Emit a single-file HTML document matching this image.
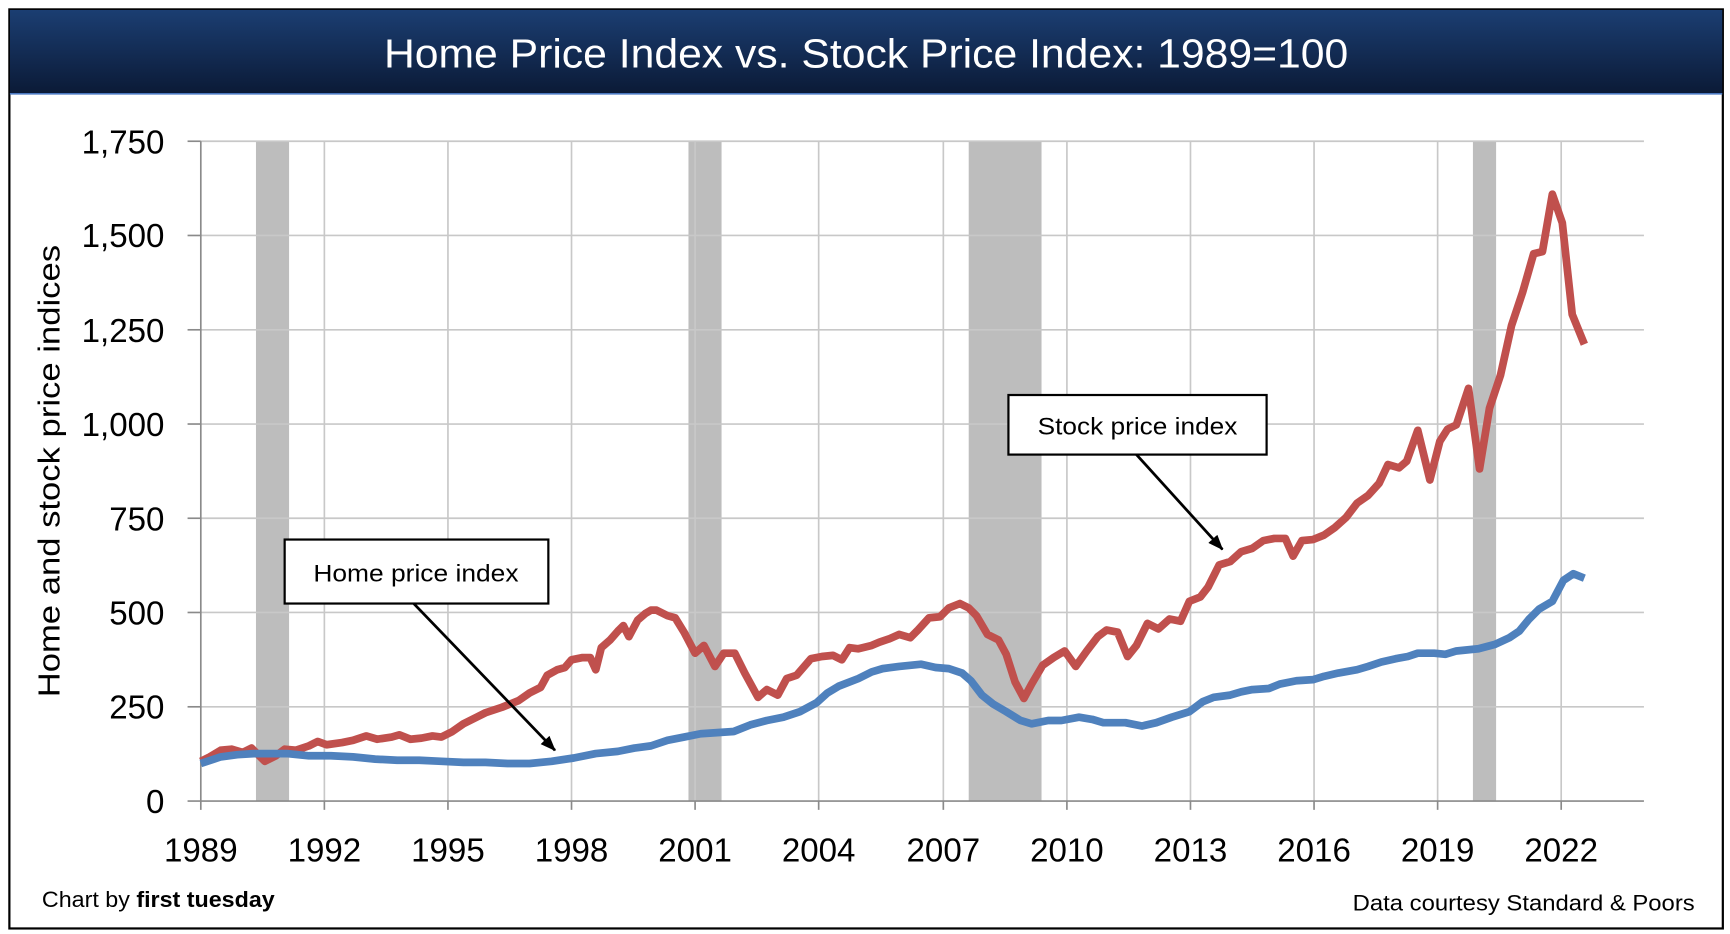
<!DOCTYPE html>
<html><head><meta charset="utf-8"><style>html,body{margin:0;padding:0;background:#fff;width:1730px;height:934px;overflow:hidden}</style></head>
<body>
<svg width="1730" height="934" viewBox="0 0 1568 846.5" xmlns="http://www.w3.org/2000/svg" font-family="'Liberation Sans', sans-serif">
<defs>
<linearGradient id="tg" x1="0" y1="0" x2="0" y2="1"><stop offset="0" stop-color="#1b3e72"/><stop offset="1" stop-color="#0b1a36"/></linearGradient>
<marker id="ah" markerWidth="14" markerHeight="11" refX="13" refY="5.5" orient="auto" markerUnits="userSpaceOnUse"><path d="M0,0 L14,5.5 L0,11 z" fill="#000"/></marker>
</defs>
<rect x="0" y="0" width="1568" height="846.5" fill="#fff"/>
<rect x="8.5" y="8.5" width="1553" height="833" fill="none" stroke="#000" stroke-width="2"/>
<rect x="9" y="9" width="1552" height="76" fill="url(#tg)"/>
<line x1="9" y1="85" x2="1561" y2="85" stroke="#4a78c0" stroke-width="1.5"/>
<text x="785" y="61" fill="#fff" font-size="37" text-anchor="middle" textLength="874" lengthAdjust="spacingAndGlyphs">Home Price Index vs. Stock Price Index: 1989=100</text>
<g fill="#bdbdbd">
<rect x="232" y="128" width="30" height="598"/>
<rect x="624" y="128" width="30" height="598"/>
<rect x="878" y="128" width="66" height="598"/>
<rect x="1335" y="128" width="21" height="598"/>
</g>
<g stroke="#c8c8c8" stroke-width="1.5">
<line x1="182" y1="128" x2="1490" y2="128"/><line x1="182" y1="213.4" x2="1490" y2="213.4"/><line x1="182" y1="298.9" x2="1490" y2="298.9"/><line x1="182" y1="384.3" x2="1490" y2="384.3"/><line x1="182" y1="469.7" x2="1490" y2="469.7"/><line x1="182" y1="555.1" x2="1490" y2="555.1"/><line x1="182" y1="640.6" x2="1490" y2="640.6"/>
<line x1="294" y1="128" x2="294" y2="726"/><line x1="406" y1="128" x2="406" y2="726"/><line x1="518" y1="128" x2="518" y2="726"/><line x1="630" y1="128" x2="630" y2="726"/><line x1="742" y1="128" x2="742" y2="726"/><line x1="855" y1="128" x2="855" y2="726"/><line x1="967" y1="128" x2="967" y2="726"/><line x1="1079" y1="128" x2="1079" y2="726"/><line x1="1191" y1="128" x2="1191" y2="726"/><line x1="1303" y1="128" x2="1303" y2="726"/><line x1="1415" y1="128" x2="1415" y2="726"/>
</g>
<g stroke="#8a8a8a" stroke-width="1.5">
<line x1="182" y1="128" x2="182" y2="734"/><line x1="170" y1="726" x2="1490" y2="726"/>
<line x1="170" y1="128" x2="182" y2="128"/><line x1="170" y1="213.4" x2="182" y2="213.4"/><line x1="170" y1="298.9" x2="182" y2="298.9"/><line x1="170" y1="384.3" x2="182" y2="384.3"/><line x1="170" y1="469.7" x2="182" y2="469.7"/><line x1="170" y1="555.1" x2="182" y2="555.1"/><line x1="170" y1="640.6" x2="182" y2="640.6"/>
<line x1="294" y1="726" x2="294" y2="734"/><line x1="406" y1="726" x2="406" y2="734"/><line x1="518" y1="726" x2="518" y2="734"/><line x1="630" y1="726" x2="630" y2="734"/><line x1="742" y1="726" x2="742" y2="734"/><line x1="855" y1="726" x2="855" y2="734"/><line x1="967" y1="726" x2="967" y2="734"/><line x1="1079" y1="726" x2="1079" y2="734"/><line x1="1191" y1="726" x2="1191" y2="734"/><line x1="1303" y1="726" x2="1303" y2="734"/><line x1="1415" y1="726" x2="1415" y2="734"/>
</g>
<g font-size="30" fill="#000" text-anchor="end">
<text x="149" y="139">1,750</text><text x="149" y="224">1,500</text><text x="149" y="310">1,250</text><text x="149" y="395">1,000</text><text x="149" y="481">750</text><text x="149" y="566">500</text><text x="149" y="651">250</text><text x="149" y="737">0</text>
</g>
<g font-size="30" fill="#000" text-anchor="middle">
<text x="182" y="781">1989</text><text x="294" y="781">1992</text><text x="406" y="781">1995</text><text x="518" y="781">1998</text><text x="630" y="781">2001</text><text x="742" y="781">2004</text><text x="855" y="781">2007</text><text x="967" y="781">2010</text><text x="1079" y="781">2013</text><text x="1191" y="781">2016</text><text x="1303" y="781">2019</text><text x="1415" y="781">2022</text>
</g>
<text transform="translate(54,427) rotate(-90)" font-size="28" text-anchor="middle" textLength="410" lengthAdjust="spacingAndGlyphs">Home and stock price indices</text>
<polyline fill="none" stroke="#c0504d" stroke-width="7" stroke-linejoin="round" points="182,690 190,686 200,680 210,679 220,682 228,678 240,690 250,685 258,679 268,680 280,676 288,672 296,675 310,673 320,671 332,667 342,670 355,668 362,666 372,670 382,669 392,667 400,668 410,663 420,656 432,650 440,646 455,641 470,635 480,628 490,623 496,612 505,607 512,605 518,598 528,596 535,596 540,607 545,587 553,580 560,572 565,567 570,577 578,562 585,556 590,553 595,553 605,558 612,560 620,573 630,592 638,585 648,604 656,592 666,592 675,610 687,632 695,625 705,630 713,615 722,612 735,597 745,595 755,594 763,598 770,587 778,588 790,585 797,582 806,579 815,575 825,578 832,571 842,560 852,559 860,551 870,547 878,551 885,558 895,575 905,580 912,593 920,618 928,633 935,620 945,603 955,596 965,590 975,604 985,590 995,577 1003,571 1013,573 1022,595 1030,585 1040,565 1050,570 1060,561 1070,563 1078,545 1088,541 1095,532 1105,512 1115,509 1125,500 1135,497 1145,490 1155,488 1165,488 1172,504 1180,490 1190,489 1200,485 1210,478 1220,469 1230,456 1240,449 1250,438 1258,421 1268,424 1275,418 1285,390 1296,435 1305,400 1312,389 1320,385 1331,352 1341,425 1350,370 1360,340 1370,295 1380,265 1390,230 1398,228 1407,176 1416,202 1425,285 1436,312"/>
<polyline fill="none" stroke="#4f81bd" stroke-width="7" stroke-linejoin="round" points="182,692 200,686 215,684 230,683 245,683 260,683 280,685 300,685 320,686 340,688 360,689 380,689 400,690 420,691 440,691 460,692 480,692 500,690 520,687 540,683 560,681 575,678 590,676 605,671 620,668 635,665 650,664 665,663 680,657 695,653 710,650 725,645 740,637 750,628 760,622 778,615 790,609 800,606 815,604 835,602 848,605 860,606 872,610 880,617 890,630 900,638 912,645 925,653 935,656 950,653 962,653 978,650 990,652 1000,655 1020,655 1035,658 1048,655 1062,650 1078,645 1090,636 1100,632 1115,630 1125,627 1135,625 1150,624 1160,620 1175,617 1190,616 1200,613 1213,610 1230,607 1240,604 1252,600 1265,597 1276,595 1285,592 1300,592 1310,593 1320,590 1340,588 1355,584 1368,578 1377,572 1386,561 1395,552 1407,545 1417,526 1426,520 1436,524"/>
<rect x="258" y="489" width="239" height="58" fill="#fff" stroke="#000" stroke-width="2"/>
<text x="377" y="527" font-size="22" text-anchor="middle" textLength="186" lengthAdjust="spacingAndGlyphs">Home price index</text>
<line x1="375" y1="547" x2="503" y2="680" stroke="#000" stroke-width="2.5" marker-end="url(#ah)"/>
<rect x="914" y="358" width="234" height="54" fill="#fff" stroke="#000" stroke-width="2"/>
<text x="1031" y="394" font-size="22" text-anchor="middle" textLength="181" lengthAdjust="spacingAndGlyphs">Stock price index</text>
<line x1="1030" y1="412" x2="1108" y2="498" stroke="#000" stroke-width="2.5" marker-end="url(#ah)"/>
<text x="38" y="822" font-size="20" textLength="211" lengthAdjust="spacingAndGlyphs">Chart by <tspan font-weight="bold">first tuesday</tspan></text>
<text x="1536" y="825" font-size="20" text-anchor="end" textLength="310" lengthAdjust="spacingAndGlyphs">Data courtesy Standard &amp; Poors</text>
</svg>
</body></html>
